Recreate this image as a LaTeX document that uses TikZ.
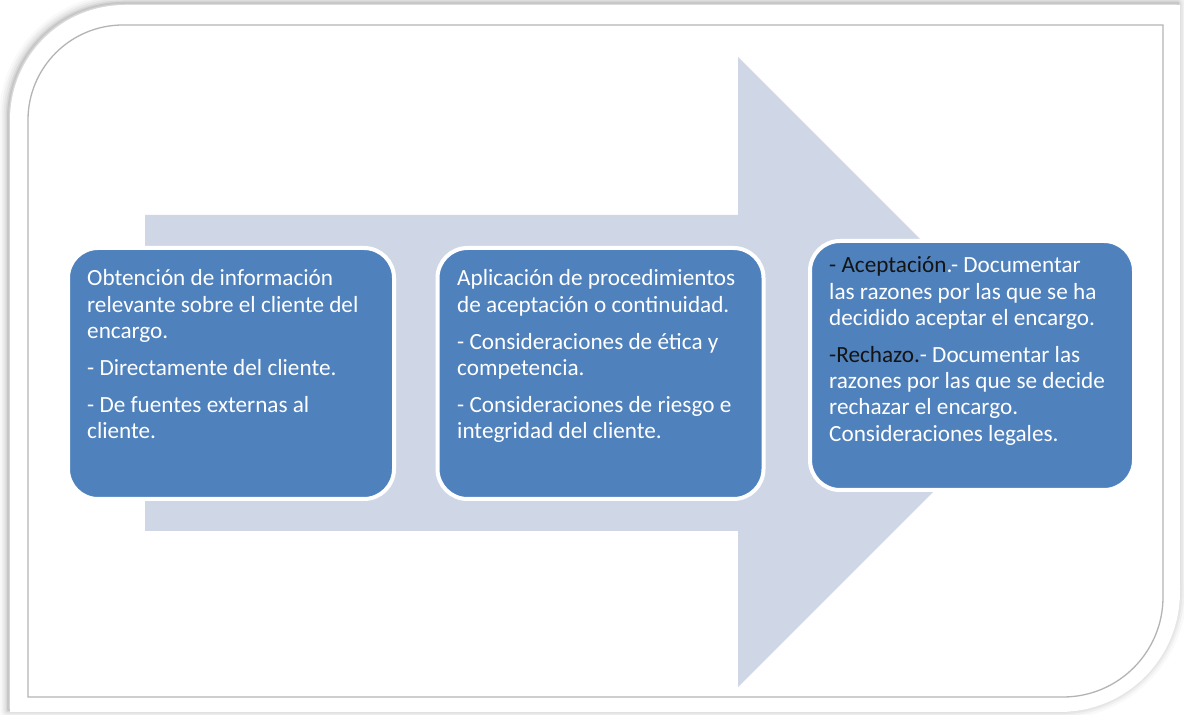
\documentclass[tikz,border=0pt]{standalone}
\usepackage{fontspec}
\setmainfont{Carlito}
\definecolor{boxblue}{HTML}{4F81BD}
\definecolor{arrowc}{HTML}{CFD7E7}
\definecolor{framegray}{HTML}{B4B4B4}
\definecolor{darktxt}{HTML}{141414}
\begin{document}
\begin{tikzpicture}[x=1pt,y=1pt,
  stepbox/.style={draw=white, line width=4pt, fill=boxblue, rounded corners=30pt, inner sep=0pt},
  txt/.style={anchor=base west, inner sep=0pt, text=white, font=\fontsize{23.2}{26.3}\selectfont},
  outerframe/.style={line join=round}]
\useasboundingbox (0,0) rectangle (1184,715);
% soft shadow of the frame
\foreach \w/\o in {18/0.025,13/0.035,9/0.045,5/0.06,2/0.08} {
  \draw[line width=\w pt, black, opacity=\o, line join=round, shift={(-2,2)}]
    (10,3) -- (10,595) arc[start angle=180,end angle=90,radius=115] -- (1180,710)
    -- (1180,123) arc[start angle=0,end angle=-90,radius=120] -- cycle;
}
% white frame
\fill[white] (10,3) -- (10,595) arc[start angle=180,end angle=90,radius=115] -- (1180,710)
    -- (1180,123) arc[start angle=0,end angle=-90,radius=120] -- cycle;
% inner thin border
\draw[framegray, line width=1.3pt] (28,18) -- (28,595) arc[start angle=180,end angle=90,radius=95] -- (1163,690)
    -- (1163,118) arc[start angle=0,end angle=-90,radius=100] -- cycle;
% big arrow
\fill[arrowc] (145,184) -- (145,500) -- (738,500) -- (738,658) -- (1053,343) -- (738,28) -- (738,184) -- cycle;
% boxes
\node[stepbox, minimum width=326pt, minimum height=251pt] (b1) at (231,341.5) {};
\node[stepbox, minimum width=326pt, minimum height=251pt] (b2) at (600.5,341.5) {};
\node[stepbox, minimum width=324pt, minimum height=249pt] (b3) at (972,349.5) {};
% texts
\node[txt] (t1) at (87,429) {\parbox[t]{300pt}{\raggedright
Obtención de información\\
relevante sobre el cliente del\\
encargo.\\[10.5pt]
- Directamente del cliente.\\[10.5pt]
- De fuentes externas al\\
cliente.}};
\node[txt] (t2) at (457,429) {\parbox[t]{300pt}{\raggedright
Aplicación de procedimientos\\
de aceptación o continuidad.\\[10.5pt]
- Consideraciones de ética y\\
competencia.\\[10.5pt]
- Consideraciones de riesgo e\\
integridad del cliente.}};
\node[txt] (t3) at (829,442) {\parbox[t]{300pt}{\raggedright\leavevmode
{\color{darktxt}- Aceptación}.- Documentar\\
las razones por las que se ha\\
decidido aceptar el encargo.\\[10.5pt]
{\color{darktxt}-Rechazo.}- Documentar las\\
razones por las que se decide\\
rechazar el encargo.\\
Consideraciones legales.}};
\end{tikzpicture}
\end{document}
